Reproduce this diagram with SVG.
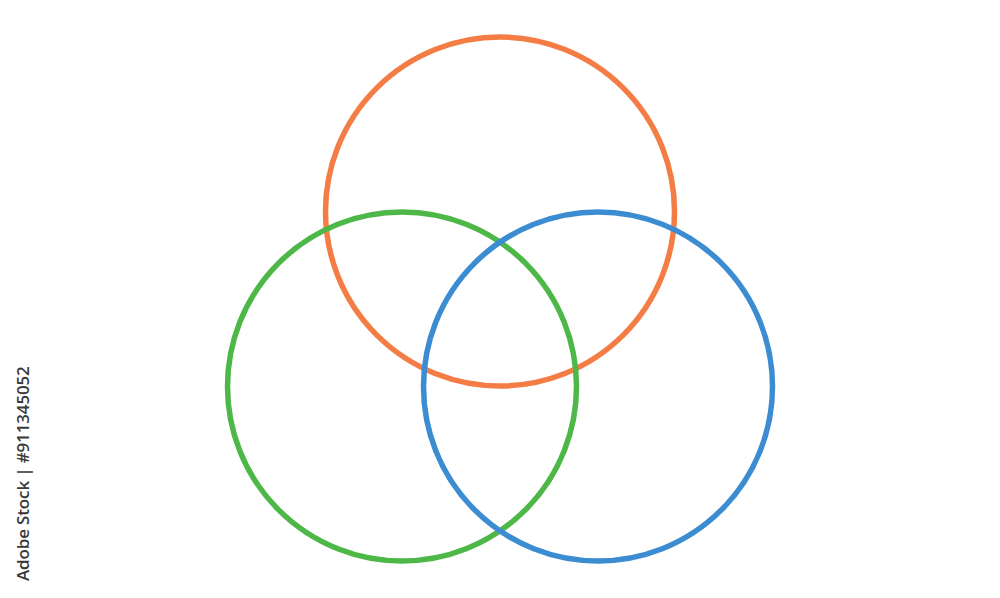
<svg xmlns="http://www.w3.org/2000/svg" width="1000" height="598" viewBox="0 0 1000 598">
<style>
.c{fill:none;stroke-width:5.5}
.t{font-family:"Open Sans","Liberation Sans",sans-serif;font-size:17px;font-weight:600;fill:#3a3a3a;letter-spacing:-0.15px}
</style>
<rect width="1000" height="598" fill="#fff"/>
<g id="orange"><circle class="c" cx="500" cy="211.5" r="174.5" stroke="#F47D45"/></g>
<g id="green"><circle class="c" cx="402" cy="386.5" r="174.5" stroke="#4DB848"/></g>
<g id="blue"><circle class="c" cx="598" cy="386.5" r="174.5" stroke="#3C8CD2"/></g>
<g id="connectors"></g>
<text class="t" transform="translate(29,581) rotate(-90)">Adobe Stock | #911345052</text>
</svg>
